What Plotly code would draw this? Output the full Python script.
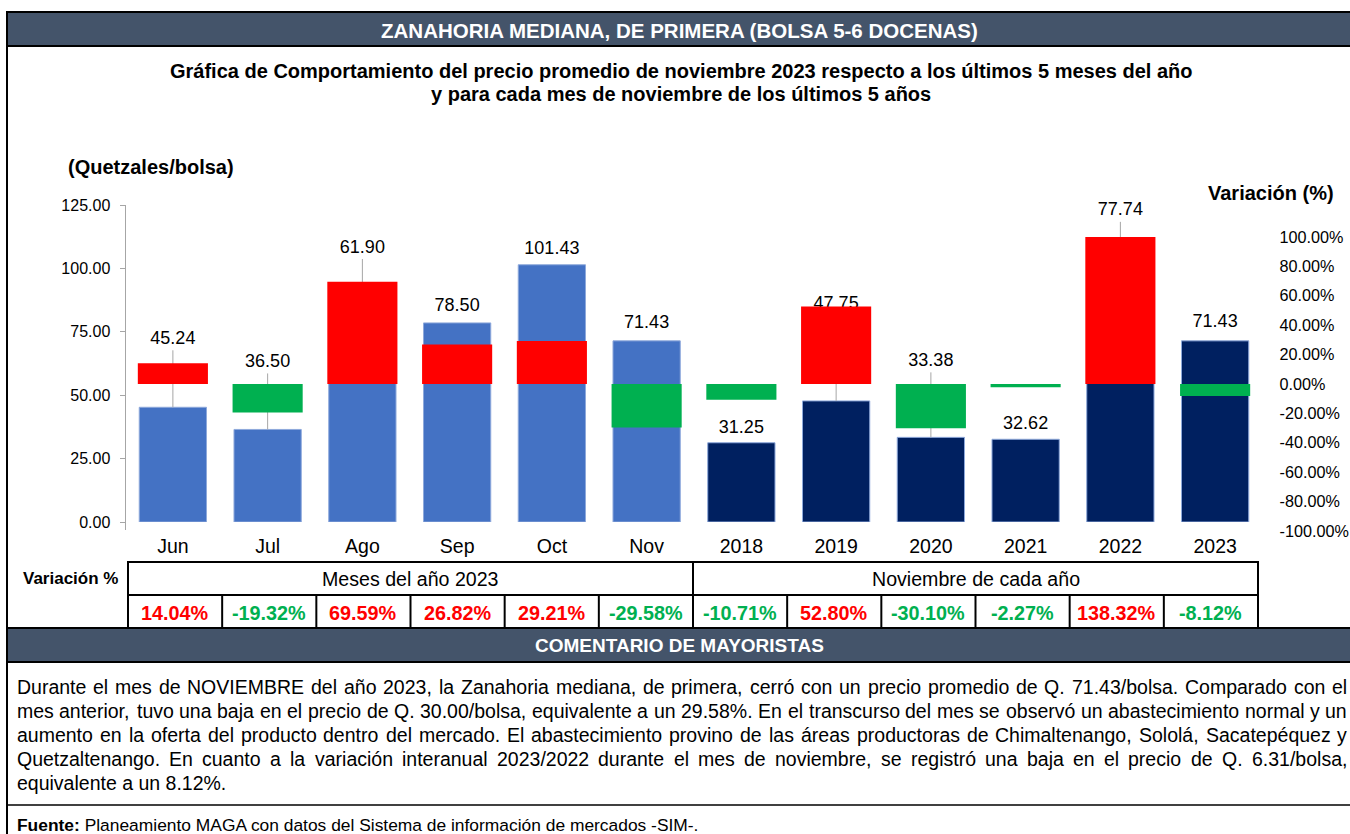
import plotly.graph_objects as go

# ---------------- data ----------------
categories = ["Jun", "Jul", "Ago", "Sep", "Oct", "Nov",
              "2018", "2019", "2020", "2021", "2022", "2023"]
price = [45.24, 36.50, 61.90, 78.50, 101.43, 71.43,
         31.25, 47.75, 33.38, 32.62, 77.74, 71.43]
variation = [14.04, -19.32, 69.59, 26.82, 29.21, -29.58,
             -10.71, 52.80, -30.10, -2.27, 138.32, -8.12]
group_labels = ["Meses del año 2023", "Noviembre de cada año"]
price_ticks = [0, 25, 50, 75, 100, 125]
var_ticks = [-100, -80, -60, -40, -20, 0, 20, 40, 60, 80, 100]

header_text = "ZANAHORIA MEDIANA, DE PRIMERA (BOLSA 5-6 DOCENAS)"
title_lines = ["Gráfica de Comportamiento del precio promedio de noviembre 2023 respecto a los últimos 5 meses del año",
               "y para cada mes de noviembre de los últimos 5 años"]
comment_header = "COMENTARIO DE MAYORISTAS"
comment_lines = [
    "Durante el mes de NOVIEMBRE del año 2023, la Zanahoria mediana, de primera, cerró con un precio promedio de Q. 71.43/bolsa. Comparado con el",
    "mes anterior, tuvo una baja en el precio de Q. 30.00/bolsa, equivalente a un 29.58%. En el transcurso del mes se observó un abastecimiento normal y un",
    "aumento en la oferta del producto dentro del mercado. El abastecimiento provino de las áreas productoras de Chimaltenango, Sololá, Sacatepéquez y",
    "Quetzaltenango. En cuanto a la variación interanual 2023/2022 durante el mes de noviembre, se registró una baja en el precio de Q. 6.31/bolsa,",
    "equivalente a un 8.12%.",
]
source_bold = "Fuente:"
source_text = " Planeamiento MAGA con datos del Sistema de información de mercados -SIM-."

# ---------------- style / geometry ----------------
W, H = 1350, 834
FONT = "Liberation Sans, Arial, sans-serif"
HEAD_FILL = "#44546A"
MONTH_COL, YEAR_COL = "#4472C4", "#002060"
UP_COL, DOWN_COL = "#FF0000", "#00B050"

PLOT_L, PLOT_R = 125.5, 1262.5
P_TOP, P_BOT = 205, 522          # price axis 125 -> 0
V_TOP, V_BOT = 237, 531          # variation axis 100% -> -100%
label_lift_px = [68, 67, 117, 16, 15, 17, 14, 96, 76, 15, 114, 18]
leader_flag = [1, 1, 1, 0, 0, 0, 0, 1, 1, 0, 1, 0]


def X(px):
    return px / W


def Y(py):
    return 1 - py / H


units_per_px = (price_ticks[-1] - price_ticks[0]) / (P_BOT - P_TOP)

fig = go.Figure()

# price bars
bar_cols = [MONTH_COL if i < 6 else YEAR_COL for i in range(len(categories))]
fig.add_trace(go.Bar(
    x=categories, y=price, width=0.71,
    marker=dict(color=bar_cols, line=dict(color="#8EA9DB", width=1)),
    xaxis="x", yaxis="y", hoverinfo="skip", showlegend=False))

# leader lines
lx, ly = [], []
for c, p, lift, f in zip(categories, price, label_lift_px, leader_flag):
    if f:
        ytxt = p + lift * units_per_px
        lx += [c, c, None]
        ly += [ytxt - 11 * units_per_px, p, None]
fig.add_trace(go.Scatter(x=lx, y=ly, mode="lines", line=dict(color="#A6A6A6", width=1),
                         xaxis="x", yaxis="y", hoverinfo="skip", showlegend=False))

# data labels
fig.add_trace(go.Scatter(
    x=categories, y=[p + l * units_per_px for p, l in zip(price, label_lift_px)],
    mode="text", text=[f"{p:.2f}" for p in price], textposition="middle center",
    textfont=dict(family=FONT, size=18, color="#000000"), cliponaxis=False,
    xaxis="x", yaxis="y", hoverinfo="skip", showlegend=False))

# variation bars (secondary axis)
fig.add_trace(go.Bar(
    x=categories, y=variation, width=0.74,
    marker=dict(color=[UP_COL if v > 0 else DOWN_COL for v in variation], line=dict(width=0)),
    xaxis="x", yaxis="y2", hoverinfo="skip", showlegend=False))

fig.update_layout(
    width=W, height=H, autosize=False,
    margin=dict(l=0, r=0, t=0, b=0, pad=0, autoexpand=False),
    paper_bgcolor="white", plot_bgcolor="rgba(0,0,0,0)",
    barmode="overlay", font=dict(family=FONT, color="#000000"),
    xaxis=dict(domain=[X(PLOT_L), X(PLOT_R)], anchor="y", type="category",
               categoryorder="array", categoryarray=categories, automargin=False,
               range=[-0.5, len(categories) - 0.5], showline=False, showgrid=False,
               zeroline=False, ticks="", ticklabelstandoff=10,
               tickfont=dict(family=FONT, size=19.5, color="#000000"), fixedrange=True),
    yaxis=dict(domain=[Y(P_BOT), Y(P_TOP)], anchor="x", range=[price_ticks[0], price_ticks[-1]],
               tickvals=price_ticks, ticktext=[f"{t:.2f}" for t in price_ticks],
               showgrid=False, zeroline=False, automargin=False,
               showline=True, linecolor="#A6A6A6", linewidth=1, ticks="outside",
               ticklen=5, tickcolor="#A6A6A6", ticklabelstandoff=6,
               tickfont=dict(family=FONT, size=16, color="#000000"), fixedrange=True),
    yaxis2=dict(domain=[Y(V_BOT), Y(V_TOP)], anchor="x", side="right",
                range=[var_ticks[0], var_ticks[-1]], tickvals=var_ticks,
                ticktext=[f"{t:.2f}%" for t in var_ticks], automargin=False,
                showgrid=False, zeroline=False,
                showline=False, ticks="", ticklabelstandoff=16,
                tickfont=dict(family=FONT, size=16.2, color="#000000"), fixedrange=True),
)

shapes = []
ann = []


def rect(x0, y0, x1, y1, fill=None, lw=2):
    shapes.append(dict(type="rect", xref="paper", yref="paper", x0=X(x0), x1=X(x1),
                       y0=Y(y1), y1=Y(y0), fillcolor=fill if fill else "rgba(0,0,0,0)",
                       line=dict(color="#000000", width=lw), layer="above"))


def line(x0, y0, x1, y1, lw=2, color="#000000"):
    shapes.append(dict(type="line", xref="paper", yref="paper", x0=X(x0), x1=X(x1),
                       y0=Y(y0), y1=Y(y1), line=dict(color=color, width=lw), layer="above"))


def text(s, x, y, size, bold=False, color="#000000", xanchor="center"):
    ann.append(dict(text=f"<b>{s}</b>" if bold else s, x=X(x), y=Y(y), xref="paper", yref="paper",
                    xanchor=xanchor, yanchor="middle", showarrow=False, borderpad=0, borderwidth=0,
                    font=dict(family=FONT, size=size, color=color)))


# header
rect(7, 12, 1352, 46, HEAD_FILL)
line(7, 12, 7, 834)
text(header_text, 680, 30, 20.5, True, "#FFFFFF")
text(title_lines[0], 681, 71, 20, True)
text(title_lines[1], 681, 94, 20, True)
text("(Quetzales/bolsa)", 68, 167, 20, True, xanchor="left")
text("Variación (%)", 1271, 193, 20, True)

# left axis line continues a little below the baseline, as in the reference
line(PLOT_L, P_BOT, PLOT_L, P_BOT + 8, 1, "#A6A6A6")

# table
T_L, T_R, T_TOP, T_MID, T_BOT = 128, 1258, 562, 595, 628
ncol = len(categories)
colw = (T_R - T_L) / ncol
rect(T_L, T_TOP, T_R, T_BOT)
line(T_L, T_MID, T_R, T_MID)
for i in range(1, ncol):
    xb = T_L + i * colw
    if i == ncol // 2:
        line(xb, T_TOP, xb, T_BOT)
    else:
        line(xb, T_MID, xb, T_BOT)
text("Variación %", 70, (T_TOP + T_MID) / 2, 17, True)
text(group_labels[0], T_L + colw * ncol / 4, (T_TOP + T_MID) / 2, 19.6)
text(group_labels[1], T_L + colw * ncol * 3 / 4, (T_TOP + T_MID) / 2, 19.6)
for i, v in enumerate(variation):
    text(f"{v:.2f}%", T_L + (i + 0.5) * colw, (T_MID + T_BOT) / 2 + 1, 19.8, True,
         UP_COL if v > 0 else DOWN_COL)

# comment section
rect(7, 628, 1352, 662, HEAD_FILL)
text(comment_header, 680, 645, 19, True, "#FFFFFF")

# Arial / Liberation Sans advance widths (per 1000 em)
AW = {" ": 278, ",": 278, ".": 278, "/": 278, "%": 889, "-": 333, ":": 278, "(": 333, ")": 333}
AW.update({d: 556 for d in "0123456789"})
AW.update(dict(zip("ABCDEFGHIJKLMNOPQRSTUVWXYZ",
                   [667, 667, 722, 722, 667, 611, 778, 722, 278, 500, 667, 556, 833, 722, 778,
                    667, 778, 722, 667, 611, 722, 667, 944, 667, 667, 611])))
AW.update(dict(zip("abcdefghijklmnopqrstuvwxyz",
                   [556, 556, 500, 556, 556, 278, 556, 556, 222, 222, 500, 222, 833, 556, 556,
                    556, 556, 333, 500, 278, 556, 500, 722, 500, 500, 500])))
AW.update({"á": 556, "é": 556, "í": 278, "ó": 556, "ú": 556, "ñ": 556})


def tw(s, size):
    return sum(AW.get(c, 556) for c in s) * size / 1000


C_SIZE = 19.5
C_L, C_R = 17, 1347
for k, ln in enumerate(comment_lines):
    ycen = 687 + 24 * k
    words = ln.split(" ")
    if k < len(comment_lines) - 1 and len(words) > 1:
        ws = [tw(w, C_SIZE) for w in words]
        gap = (C_R - C_L - sum(ws)) / (len(words) - 1)
        xcur = C_L
        for w, wd in zip(words, ws):
            text(w, xcur, ycen, C_SIZE, xanchor="left")
            xcur += wd + gap
    else:
        text(ln, C_L, ycen, C_SIZE, xanchor="left")

line(7, 805, 1352, 805, 1.5)
ann.append(dict(text=f"<b>{source_bold}</b>{source_text}", x=X(17), y=Y(825), xref="paper",
                yref="paper", xanchor="left", yanchor="middle", showarrow=False,
                borderpad=0, borderwidth=0,
                font=dict(family=FONT, size=17.4, color="#000000")))

fig.update_layout(shapes=shapes, annotations=ann)

pin_page = ("document.documentElement.style.overflow='hidden';"
            "document.body.style.margin='0';"
            "var gd=document.querySelector('.plotly-graph-div');"
            "gd.style.position='fixed';gd.style.top='0px';gd.style.left='0px';")
fig.write_html("out.html", post_script=pin_page, config={"displayModeBar": False})
